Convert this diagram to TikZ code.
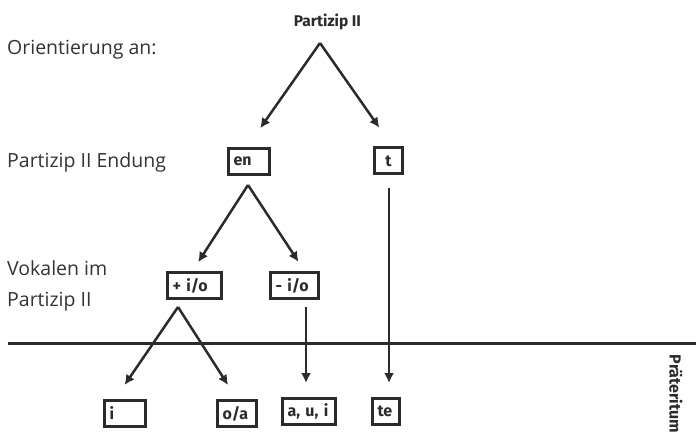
\documentclass[tikz,border=0pt]{standalone}
\usepackage{fontspec}
\usetikzlibrary{arrows.meta}
\newfontfamily\labelfont{Open Sans}
\newfontfamily\boxfont{Fira Sans}
\definecolor{ink}{HTML}{2B2B2B}
\definecolor{labelgray}{HTML}{333333}
\tikzset{
  vbox/.style={draw=ink, line width=3pt, inner xsep=5pt, inner ysep=0pt,
    text width=#1, minimum height=26pt, align=left, text=ink,
    font=\boxfont\bfseries\fontsize{16}{19}\selectfont},
  arr/.style={draw=ink, line width=2.5pt, -{Latex[length=10pt,width=10pt]}},
  sidelabel/.style={anchor=base west, inner sep=0pt, text=labelgray,
    font=\labelfont\fontsize{19.5}{32}\selectfont, align=left}
}
\begin{document}
\begin{tikzpicture}[x=1pt,y=-1pt]
  \useasboundingbox (0,0) rectangle (696,438);

  % labels on the left
  \node[sidelabel] (orient) at (7,55) {Orientierung an:};
  \node[sidelabel] (ending) at (7,168) {Partizip II Endung};
  \node[sidelabel] (vowels) at (7,307) {Vokalen im\\Partizip II};

  % tree
  \node[text=ink, font=\boxfont\bfseries\fontsize{15.5}{18}\selectfont] (title) at (327.5,22) {Partizip II};
  \coordinate (top) at (320,43);

  \node[vbox=31pt] (en) at (249,161.5) {en};
  \node[vbox=18pt, align=center] (t) at (388.5,161) {t};
  \coordinate (enTop) at (248,185);

  \node[vbox=44pt] (plusio) at (194.5,285.5) {+ i/o};
  \node[vbox=38pt] (minusio) at (294.5,285.5) {- i/o};
  \coordinate (plusTop) at (178,307);

  \node[vbox=31pt] (i) at (125,413.5) {i};
  \node[vbox=29pt] (oa) at (237,413.5) {o/a};
  \node[vbox=43pt] (aui) at (309,411.5) {a, u, i};
  \node[vbox=17pt] (te) at (386,411.5) {te};

  \draw[arr, shorten >=23pt] (top) -- ([xshift=-2pt]en.north);
  \draw[arr, shorten >=23pt] (top) -- ([xshift=4pt]t.north);
  \draw[arr, shorten >=10.5pt] (enTop) -- ([xshift=-2pt]plusio.north);
  \draw[arr, shorten >=11pt] (enTop) -- ([xshift=10pt]minusio.north);
  \draw[arr, shorten >=17pt] (plusTop) -- ([xshift=-10pt]i.north);
  \draw[arr, shorten >=16.6pt] (plusTop) -- (oa.north);
  \draw[arr, shorten <=7pt, shorten >=14pt] ([xshift=11.5pt]minusio.south) -- ([xshift=-3pt]aui.north);
  \draw[arr, shorten <=13pt, shorten >=14pt] ([xshift=0.5pt]t.south) -- ([xshift=3pt]te.north);

  % divider
  \draw[ink, line width=3pt] (8,343) -- (696,343);
  \node[rotate=-90, text=ink, font=\boxfont\bfseries\fontsize{16}{19}\selectfont] (praet) at (676,394) {Präteritum};
\end{tikzpicture}
\end{document}
